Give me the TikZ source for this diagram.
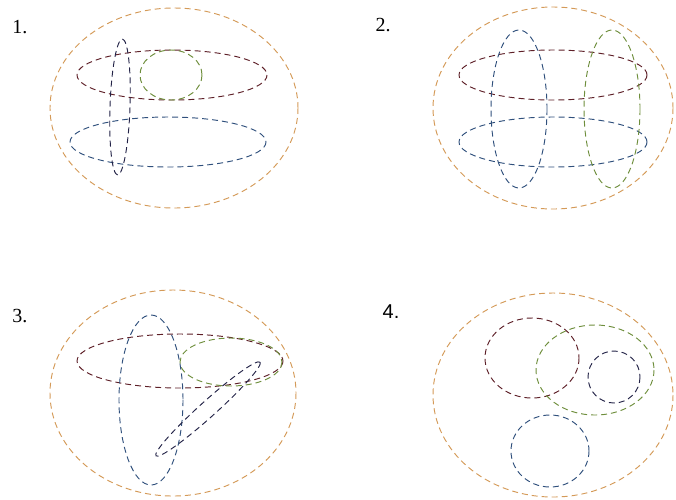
\documentclass[tikz,border=0pt]{standalone}
\usepackage{fontspec}
\setmainfont{Liberation Serif}
\newfontfamily\labsans{Liberation Sans}
\definecolor{cOuter}{HTML}{D49A58}
\definecolor{cRed}{HTML}{5E2028}
\definecolor{cGreen}{HTML}{6E8E3C}
\definecolor{cBlue}{HTML}{30507C}
\definecolor{cNavy}{HTML}{242448}
\tikzset{
  ring/.style={dash pattern=on 6pt off 4pt, line width=0.95pt},
  outerring/.style={ring, draw=cOuter},
  redring/.style={ring, draw=cRed},
  greenring/.style={ring, draw=cGreen},
  bluering/.style={ring, draw=cBlue},
  navyring/.style={ring, draw=cNavy},
  lab/.style={inner sep=0pt, font=\fontsize{20}{20}\selectfont}
}
\begin{document}
\begin{tikzpicture}[x=1pt,y=-1pt]
\useasboundingbox (0,0) rectangle (676,499);
% Panel 1
\node[lab] (l1) at (20,27) {1.};
\draw[outerring] (174,108) ellipse [x radius=124, y radius=100];
\draw[redring] (172,75) ellipse [x radius=95, y radius=25];
\draw[greenring] (171,75) ellipse [x radius=31, y radius=25];
\draw[bluering] (168,142) ellipse [x radius=98, y radius=25];
\draw[navyring, rotate around={-2:(120,107)}] (120,107) ellipse [x radius=10, y radius=68];
% Panel 2
\node[lab] (l2) at (383,25) {2.};
\draw[outerring] (553,108) ellipse [x radius=120, y radius=101];
\draw[redring] (553,75) ellipse [x radius=94, y radius=25];
\draw[bluering] (553,142) ellipse [x radius=94, y radius=25];
\draw[bluering] (519,109) ellipse [x radius=28, y radius=79];
\draw[greenring] (612,109) ellipse [x radius=28, y radius=79];
% Panel 3
\node[lab] (l3) at (20,316) {3.};
\draw[outerring] (173,393) ellipse [x radius=123, y radius=103];
\draw[redring] (180,361) ellipse [x radius=103, y radius=27];
\draw[greenring] (231,362) ellipse [x radius=51, y radius=24];
\draw[bluering] (151,400) ellipse [x radius=32, y radius=85];
\draw[navyring, rotate around={42:(208,409)}] (208,409) ellipse [x radius=70, y radius=8];
% Panel 4
\node[lab, font=\labsans\fontsize{20}{20}\selectfont] (l4) at (391,312) {4.};
\draw[outerring] (553,395) ellipse [x radius=120, y radius=102];
\draw[redring] (532,358) ellipse [x radius=47, y radius=40];
\draw[greenring] (595,370) ellipse [x radius=59, y radius=45];
\draw[navyring] (614,377) ellipse [x radius=26, y radius=26];
\draw[bluering] (550,451) ellipse [x radius=39, y radius=36];
\end{tikzpicture}
\end{document}
